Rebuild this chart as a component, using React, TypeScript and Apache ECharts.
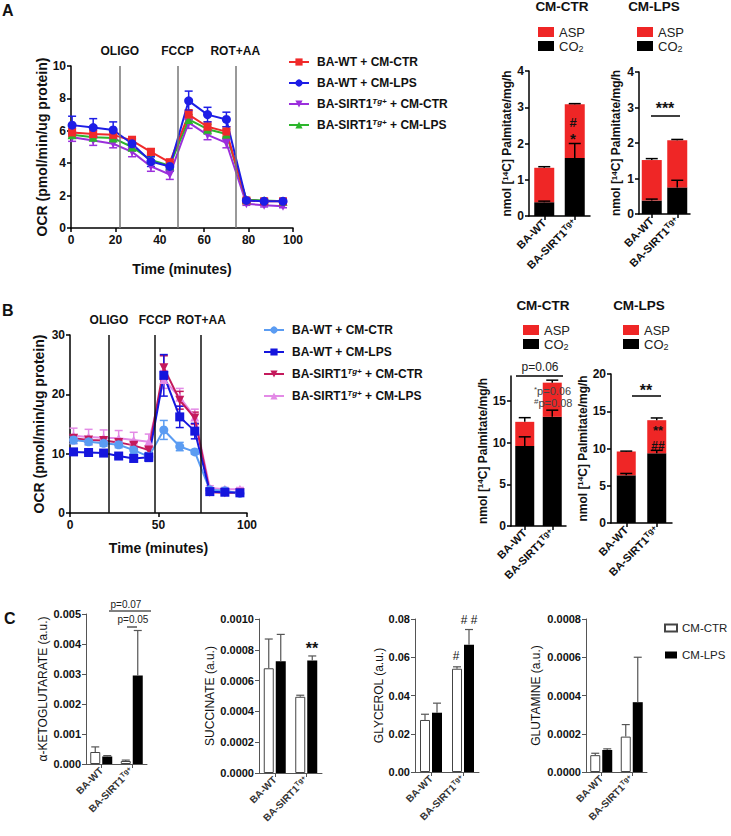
import React, { useEffect, useRef } from 'react';
import * as echarts from 'echarts';

const FONT = "'Liberation Sans', Arial, Helvetica, sans-serif";

// ---------- Panel A / B time course ----------
const injectionTimes = [22, 48, 74];
const injectionNames = ['OLIGO', 'FCCP', 'ROT+AA'];

const timesA = [0.5, 10, 19, 27.5, 36, 44.5, 53, 61.5, 70, 79, 87, 95.5];
const aWtCtr = [5.9, 5.8, 5.75, 5.4, 4.7, 4.05, 7.0, 6.25, 5.95, 1.7, 1.65, 1.65];
const aWtCtrErr = [0.25, 0.25, 0.2, 0.25, 0.2, 0.2, 0.3, 0.3, 0.3, 0.1, 0.1, 0.1];
const aWtLps = [6.35, 6.2, 6.05, 5.2, 4.1, 3.8, 7.85, 7.0, 6.7, 1.7, 1.65, 1.65];
const aWtLpsErr = [0.55, 0.55, 0.5, 0.3, 0.3, 0.3, 0.6, 0.45, 0.45, 0.1, 0.1, 0.1];
const aTgCtr = [5.6, 5.4, 5.2, 4.7, 3.8, 3.3, 6.5, 5.75, 5.25, 1.5, 1.4, 1.35];
const aTgCtrErr = [0.25, 0.3, 0.25, 0.3, 0.3, 0.3, 0.35, 0.3, 0.3, 0.1, 0.1, 0.1];
const aTgLps = [5.75, 5.6, 5.55, 5.0, 4.2, 3.85, 6.7, 6.1, 5.8, 1.75, 1.7, 1.65];
const aTgLpsErr = [0.2, 0.2, 0.2, 0.25, 0.2, 0.2, 0.3, 0.3, 0.3, 0.1, 0.1, 0.1];

const timesB = [2, 10.5, 19, 27.5, 36, 44.5, 53, 62, 70.5, 79, 87.5, 96];
const bWtCtr = [12.3, 12.0, 11.75, 11.5, 10.6, 9.5, 14.0, 11.2, 10.3, 3.9, 3.75, 3.3];
const bWtCtrErr = [0.6, 0.5, 0.5, 0.5, 0.6, 0.7, 1.6, 0.7, 0.4, 0.3, 0.3, 0.3];
const bWtLps = [10.3, 10.2, 10.1, 9.6, 9.2, 9.4, 23.2, 16.2, 13.8, 3.6, 3.5, 3.4];
const bWtLpsErr = [0.4, 0.3, 0.3, 0.4, 0.6, 0.7, 3.5, 1.8, 1.3, 0.3, 0.3, 0.3];
const bTgCtr = [12.6, 12.3, 12.2, 11.9, 11.4, 10.6, 24.5, 19.0, 16.0, 3.5, 3.4, 3.4];
const bTgCtrErr = [0.5, 0.4, 0.4, 0.4, 0.5, 0.5, 2.0, 1.5, 1.0, 0.3, 0.3, 0.3];
const bTgLps = [13.0, 12.8, 12.7, 12.6, 12.3, 12.0, 22.5, 19.5, 16.2, 4.2, 4.0, 4.0];
const bTgLpsErr = [1.3, 1.3, 1.3, 1.3, 1.3, 1.3, 1.5, 1.5, 1.3, 0.4, 0.3, 0.3];

const lineNames = ['BA-WT + CM-CTR', 'BA-WT + CM-LPS', 'BA-SIRT1 + CM-CTR', 'BA-SIRT1 + CM-LPS'];
const lineNamesB = lineNames.map((n) => n + ' (B)');

// ---------- Palmitate oxidation bars ----------
const barCats = ['BA-WT', 'BA-SIRT1'];
const aCtrCO2 = [0.38, 1.6];
const aCtrCO2Err = [0.03, 0.4];
const aCtrASP = [0.95, 1.48];
const aCtrTotErr = [0.03, 0.02];
const aLpsCO2 = [0.38, 0.75];
const aLpsCO2Err = [0.04, 0.2];
const aLpsASP = [1.14, 1.33];
const aLpsTotErr = [0.04, 0.02];
const bCtrCO2 = [9.6, 13.1];
const bCtrCO2Err = [1.1, 0.8];
const bCtrASP = [2.9, 4.1];
const bCtrTotErr = [0.5, 0.3];
const bLpsCO2 = [6.4, 9.35];
const bLpsCO2Err = [0.25, 0.4];
const bLpsASP = [3.2, 4.45];
const bLpsTotErr = [0.05, 0.3];

// ---------- Panel C metabolites ----------
const akgCtr = [0.0004, 0.0001];
const akgCtrErr = [0.00017, 0.00003];
const akgLps = [0.00025, 0.00295];
const akgLpsErr = [0.00003, 0.0015];
const succCtr = [0.00068, 0.000495];
const succCtrErr = [0.00019, 0.00001];
const succLps = [0.000725, 0.00073];
const succLpsErr = [0.000175, 0.00003];
const glyCtr = [0.0272, 0.054];
const glyCtrErr = [0.003, 0.001];
const glyLps = [0.031, 0.0665];
const glyLpsErr = [0.005, 0.008];
const glnCtr = [0.000088, 0.000185];
const glnCtrErr = [0.00001, 0.000063];
const glnLps = [0.000115, 0.000365];
const glnLpsErr = [0.000006, 0.000235];

const RED = '#ef2626';
const DOWN_TRI = 'path://M0,0L10,0L5,9Z';

function supRich(size: number, italic = false) {
  return {
    sup: { fontSize: size, fontWeight: 'bold', fontStyle: italic ? 'italic' : 'normal', verticalAlign: 'top', lineHeight: 6, fontFamily: FONT },
  };
}

function lineSeries(name: string, times: number[], vals: number[], color: string, symbol: string, size: number, gi: number, extra: any = {}) {
  return {
    type: 'line',
    name,
    xAxisIndex: gi,
    yAxisIndex: gi,
    data: times.map((t, i) => [t, vals[i]]),
    symbol,
    symbolSize: size,
    itemStyle: { color },
    lineStyle: { color, width: 2 },
    z: 4,
    ...extra,
  };
}

function errLine(times: number[], vals: number[], errs: number[], color: string, gi: number) {
  return {
    type: 'custom',
    xAxisIndex: gi,
    yAxisIndex: gi,
    silent: true,
    z: 3,
    data: times.map((t, i) => [t, vals[i], errs[i]]),
    encode: { x: 0, y: 1 },
    renderItem: (_p: any, api: any) => {
      const x = api.value(0);
      const y = api.value(1);
      const e = api.value(2);
      const a = api.coord([x, y + e]);
      const b = api.coord([x, y - e]);
      const st = { stroke: color, lineWidth: 1.5 };
      const cap = 4;
      return {
        type: 'group',
        children: [
          { type: 'line', shape: { x1: a[0], y1: a[1], x2: b[0], y2: b[1] }, style: st },
          { type: 'line', shape: { x1: a[0] - cap, y1: a[1], x2: a[0] + cap, y2: a[1] }, style: st },
          { type: 'line', shape: { x1: b[0] - cap, y1: b[1], x2: b[0] + cap, y2: b[1] }, style: st },
        ],
      };
    },
  };
}

function errBar(base: number[], errs: number[], gi: number, color: string, offset: number, cap: number, width = 1.5) {
  return {
    type: 'custom',
    xAxisIndex: gi,
    yAxisIndex: gi,
    silent: true,
    z: 5,
    data: base.map((v, i) => [i, v, errs[i]]),
    encode: { x: 0, y: 1 },
    renderItem: (_p: any, api: any) => {
      const i = api.value(0);
      const y = api.value(1);
      const e = api.value(2);
      const a = api.coord([i, y]);
      const b = api.coord([i, y + e]);
      const x = a[0] + offset;
      const st = { stroke: color, lineWidth: width };
      return {
        type: 'group',
        children: [
          { type: 'line', shape: { x1: x, y1: a[1], x2: x, y2: b[1] }, style: st },
          { type: 'line', shape: { x1: x - cap, y1: b[1], x2: x + cap, y2: b[1] }, style: st },
        ],
      };
    },
  };
}

function markLines(color: string) {
  return {
    silent: true,
    symbol: ['none', 'none'],
    animation: false,
    lineStyle: { color, width: 1.5, type: 'solid' },
    label: {
      show: true,
      position: 'end',
      formatter: (p: any) => p.name,
      fontFamily: FONT,
      fontWeight: 'bold',
      fontSize: 12,
      color: '#111',
      distance: 9,
    },
    data: injectionTimes.map((t, i) => ({ xAxis: t, name: injectionNames[i] })),
  };
}

const catLabelFormatter = (v: string) => (v === 'BA-SIRT1' ? 'BA-SIRT1{sup|Tg+}' : v);

function valueY(gi: number, max: number, interval: number, name: string, nameGap: number, opts: any = {}) {
  const c = opts.color || '#000';
  return {
    type: 'value',
    gridIndex: gi,
    min: 0,
    max,
    interval,
    splitLine: { show: false },
    axisLine: { show: true, lineStyle: { color: c, width: opts.lw || 1.5 } },
    axisTick: { show: true, length: 4, lineStyle: { color: c, width: opts.lw || 1.5 } },
    axisLabel: {
      fontFamily: FONT,
      fontWeight: 'bold',
      fontSize: opts.labelSize || 12,
      color: '#111',
      margin: 5,
      showMaxLabel: opts.showMax !== false,
      formatter: opts.decimals != null ? (v: number) => v.toFixed(opts.decimals) : undefined,
    },
    name,
    nameLocation: 'middle',
    nameRotate: 90,
    nameGap,
    nameTextStyle: {
      fontFamily: FONT,
      fontWeight: opts.nameWeight || 'bold',
      fontSize: opts.nameSize || 12,
      color: '#111',
      rich: { sup: { fontSize: 8, fontWeight: opts.nameWeight || 'bold', verticalAlign: 'top', lineHeight: 6, fontFamily: FONT } },
    },
  };
}

function catX(gi: number, opts: any = {}) {
  const c = opts.color || '#000';
  return {
    type: 'category',
    gridIndex: gi,
    data: barCats,
    axisLine: { show: true, lineStyle: { color: c, width: opts.lw || 1.5 } },
    axisTick: { show: true, alignWithLabel: true, length: 4, lineStyle: { color: c, width: opts.lw || 1.5 } },
    axisLabel: {
      interval: 0,
      rotate: 45,
      fontFamily: FONT,
      fontWeight: 'bold',
      fontSize: opts.labelSize || 11,
      color: opts.labelColor || '#111',
      margin: 5,
      lineHeight: 12,
      formatter: catLabelFormatter,
      rich: supRich((opts.labelSize || 11) - 3),
    },
  };
}

function timeX(gi: number, interval: number, nameGap: number) {
  return {
    type: 'value',
    gridIndex: gi,
    min: 0,
    max: 100,
    interval,
    splitLine: { show: false },
    axisLine: { show: true, lineStyle: { color: '#000', width: 1.5 } },
    axisTick: { show: true, length: 4, lineStyle: { color: '#000', width: 1.5 } },
    axisLabel: { fontFamily: FONT, fontWeight: 'bold', fontSize: 12, color: '#111', margin: 6 },
    name: 'Time (minutes)',
    nameLocation: 'middle',
    nameGap,
    nameTextStyle: { fontFamily: FONT, fontWeight: 'bold', fontSize: 14, color: '#111' },
  };
}

function stackBars(gi: number, co2: number[], asp: number[], co2Err: number[], totErr: number[], width: number) {
  const stack = 'stk' + gi;
  const tot = co2.map((v, i) => v + asp[i]);
  return [
    { type: 'bar', name: 'CO2', stack, xAxisIndex: gi, yAxisIndex: gi, data: co2, barWidth: width, itemStyle: { color: '#000' }, z: 2 },
    { type: 'bar', name: 'ASP', stack, xAxisIndex: gi, yAxisIndex: gi, data: asp, barWidth: width, itemStyle: { color: RED }, z: 2 },
    errBar(co2, co2Err, gi, '#000', 0, 6),
    errBar(tot, totErr, gi, '#000', 0, 6),
  ];
}

function groupBars(gi: number, ctr: number[], ctrErr: number[], lps: number[], lpsErr: number[]) {
  return [
    { type: 'bar', name: 'CM-CTR', xAxisIndex: gi, yAxisIndex: gi, data: ctr, barWidth: 10, barGap: '20%', itemStyle: { color: '#fff', borderColor: '#444', borderWidth: 1 }, z: 2 },
    { type: 'bar', name: 'CM-LPS', xAxisIndex: gi, yAxisIndex: gi, data: lps, barWidth: 10, barGap: '20%', itemStyle: { color: '#000' }, z: 2 },
    errBar(ctr, ctrErr, gi, '#555', -6, 4, 1.2),
    errBar(lps, lpsErr, gi, '#555', 6, 4, 1.2),
  ];
}

function lineLegend(names: string[], left: number, top: number, gap: number) {
  return {
    data: names,
    left,
    top,
    orient: 'vertical',
    padding: 0,
    itemWidth: 20,
    itemHeight: 9,
    itemGap: gap,
    selectedMode: false,
    formatter: (n: string) => n.replace(' (B)', '').replace('SIRT1', 'SIRT1{sup|Tg+}'),
    textStyle: {
      fontFamily: FONT,
      fontWeight: 'bold',
      fontSize: 12,
      color: '#111',
      lineHeight: 14,
      padding: [0, 0, 0, 3],
      rich: supRich(8, true),
    },
  };
}

function barLegend(left: number, top: number) {
  return {
    data: ['ASP', 'CO2'],
    left,
    top,
    orient: 'vertical',
    padding: 0,
    icon: 'rect',
    itemWidth: 16,
    itemHeight: 10,
    itemGap: 0,
    selectedMode: false,
    formatter: (n: string) => (n === 'CO2' ? 'CO{sub|2}' : n),
    textStyle: {
      fontFamily: FONT,
      fontSize: 13,
      color: '#222',
      lineHeight: 14,
      rich: { sub: { fontSize: 9, verticalAlign: 'bottom', lineHeight: 6, fontFamily: FONT, color: '#222' } },
    },
  };
}

function txt(x: number, y: number, text: string, size: number, weight = 'bold', align = 'center', color = '#111', rich?: any) {
  return {
    type: 'text',
    x,
    y,
    z: 100,
    silent: true,
    style: { text, fontFamily: FONT, fontSize: size, fontWeight: weight, fill: color, align, verticalAlign: 'middle', rich },
  };
}
function hline(x1: number, x2: number, y: number, w = 1.5, color = '#000') {
  return { type: 'line', z: 100, silent: true, shape: { x1, y1: y, x2, y2: y }, style: { stroke: color, lineWidth: w } };
}

function buildOption() {
  const grids = [
    { left: 71, top: 66, width: 222, height: 162 }, // 0 A line
    { left: 529, top: 71, width: 61, height: 145 }, // 1 A CTR
    { left: 639, top: 72, width: 51, height: 142 }, // 2 A LPS
    { left: 70, top: 335, width: 177, height: 178 }, // 3 B line
    { left: 511, top: 376, width: 55, height: 150 }, // 4 B CTR
    { left: 611, top: 374, width: 61, height: 149 }, // 5 B LPS
    { left: 86, top: 614, width: 61, height: 150 }, // 6 C akg
    { left: 259, top: 619, width: 63, height: 154 }, // 7 C succ
    { left: 415, top: 619, width: 64, height: 153 }, // 8 C gly
    { left: 586, top: 619, width: 61, height: 153 }, // 9 C gln
  ].map((g) => ({ ...g, containLabel: false }));

  const cOpts = { color: '#555', lw: 1, labelSize: 10, labelColor: '#333' };
  const xAxis = [
    timeX(0, 20, 34),
    catX(1),
    catX(2),
    timeX(3, 50, 28),
    catX(4),
    catX(5),
    catX(6, cOpts),
    catX(7, cOpts),
    catX(8, cOpts),
    catX(9, cOpts),
  ];
  const cy = { color: '#555', lw: 1, labelSize: 11, nameWeight: 'normal', nameSize: 12 };
  const palm = 'nmol [{sup|14}C] Palmitate/mg/h';
  const yAxis = [
    valueY(0, 10, 2, 'OCR (pmol/min/ug protein)', 18, { nameSize: 14 }),
    valueY(1, 4, 1, palm, 11),
    valueY(2, 4, 1, palm, 17),
    valueY(3, 30, 10, 'OCR (pmol/min/ug protein)', 24, { nameSize: 14 }),
    valueY(4, 18, 5, palm, 18, { showMax: false }),
    valueY(5, 20, 5, palm, 14),
    valueY(6, 0.005, 0.001, 'α-KETOGLUTARATE (a.u.)', 37, { ...cy, decimals: 3 }),
    valueY(7, 0.001, 0.0002, 'SUCCINATE (a.u.)', 42, { ...cy, decimals: 4 }),
    valueY(8, 0.08, 0.02, 'GLYCEROL (a.u.)', 30, { ...cy, decimals: 2 }),
    valueY(9, 0.0008, 0.0002, 'GLUTAMINE (a.u.)', 44, { ...cy, decimals: 4 }),
  ];

  const series: any[] = [
    // A
    lineSeries(lineNames[2], timesA, aTgCtr, '#9b2fdc', DOWN_TRI, 9, 0, { markLine: markLines('#777') }),
    errLine(timesA, aTgCtr, aTgCtrErr, '#9b2fdc', 0),
    lineSeries(lineNames[3], timesA, aTgLps, '#2cb52c', 'triangle', 9, 0),
    errLine(timesA, aTgLps, aTgLpsErr, '#2cb52c', 0),
    lineSeries(lineNames[0], timesA, aWtCtr, '#f02a2a', 'rect', 8, 0),
    errLine(timesA, aWtCtr, aWtCtrErr, '#f02a2a', 0),
    lineSeries(lineNames[1], timesA, aWtLps, '#1d1de6', 'circle', 9, 0),
    errLine(timesA, aWtLps, aWtLpsErr, '#1d1de6', 0),
    // B
    lineSeries(lineNamesB[3], timesB, bTgLps, '#e38ae6', 'triangle', 9, 3, { markLine: markLines('#111') }),
    errLine(timesB, bTgLps, bTgLpsErr, '#e38ae6', 3),
    lineSeries(lineNamesB[2], timesB, bTgCtr, '#c41a5c', DOWN_TRI, 9, 3),
    errLine(timesB, bTgCtr, bTgCtrErr, '#c41a5c', 3),
    lineSeries(lineNamesB[0], timesB, bWtCtr, '#5b9cf2', 'circle', 9, 3),
    errLine(timesB, bWtCtr, bWtCtrErr, '#5b9cf2', 3),
    lineSeries(lineNamesB[1], timesB, bWtLps, '#1515dd', 'rect', 9, 3),
    errLine(timesB, bWtLps, bWtLpsErr, '#1515dd', 3),
    // bars
    ...stackBars(1, aCtrCO2, aCtrASP, aCtrCO2Err, aCtrTotErr, 20),
    ...stackBars(2, aLpsCO2, aLpsASP, aLpsCO2Err, aLpsTotErr, 20),
    ...stackBars(4, bCtrCO2, bCtrASP, bCtrCO2Err, bCtrTotErr, 19),
    ...stackBars(5, bLpsCO2, bLpsASP, bLpsCO2Err, bLpsTotErr, 19),
    // C
    ...groupBars(6, akgCtr, akgCtrErr, akgLps, akgLpsErr),
    ...groupBars(7, succCtr, succCtrErr, succLps, succLpsErr),
    ...groupBars(8, glyCtr, glyCtrErr, glyLps, glyLpsErr),
    ...groupBars(9, glnCtr, glnCtrErr, glnLps, glnLpsErr),
  ];

  const legend = [
    lineLegend(lineNames, 288, 55, 7),
    lineLegend(lineNamesB, 263, 323, 8),
    barLegend(538, 25),
    barLegend(637, 25),
    barLegend(523, 323),
    barLegend(623, 323),
    {
      data: ['CM-CTR', 'CM-LPS'],
      left: 664,
      top: 621,
      orient: 'vertical',
      padding: 0,
      icon: 'rect',
      itemWidth: 12,
      itemHeight: 7,
      itemGap: 13,
      selectedMode: false,
      textStyle: { fontFamily: FONT, fontSize: 11.5, color: '#222', lineHeight: 14 },
    },
  ];

  const smallRich = { s: { fontSize: 8, verticalAlign: 'top', lineHeight: 6, fontFamily: FONT, fill: '#444' } };
  const graphic = [
    txt(2, 10, 'A', 16, 'bold', 'left'),
    txt(2, 310, 'B', 16, 'bold', 'left'),
    txt(4, 618, 'C', 16, 'bold', 'left'),
    txt(562, 6, 'CM-CTR', 13.5),
    txt(654, 6, 'CM-LPS', 13.5),
    txt(543, 305, 'CM-CTR', 13.5),
    txt(639, 305, 'CM-LPS', 13.5),
    // A annotations
    txt(573, 122, '#', 13),
    txt(573, 138, '*', 15),
    txt(665, 108, '***', 16),
    hline(651, 680, 116),
    // B annotations
    txt(540, 367, 'p=0.06', 12, 'normal', 'center', '#222'),
    hline(516, 563, 376),
    { type: 'text', x: 534, y: 391, z: 100, silent: true, style: { text: '{s|*}p=0.06', fontFamily: FONT, fontSize: 11, fill: '#444', align: 'left', verticalAlign: 'middle', rich: smallRich } },
    { type: 'text', x: 534, y: 403, z: 100, silent: true, style: { text: '{s|#}p=0.08', fontFamily: FONT, fontSize: 11, fill: '#444', align: 'left', verticalAlign: 'middle', rich: smallRich } },
    txt(646, 390, '**', 16),
    hline(632, 661, 396),
    txt(658, 430, '**', 13),
    txt(658, 446, '##', 12),
    // C annotations
    txt(126, 604, 'p=0.07', 10, 'normal', 'center', '#222'),
    hline(109, 151, 611, 1),
    txt(133, 619, 'p=0.05', 10, 'normal', 'center', '#222'),
    hline(127, 137, 627, 1),
    txt(312, 648, '**', 16),
    txt(456, 656, '#', 12, 'normal'),
    txt(469, 620, '# #', 12, 'normal'),
  ];

  return {
    animation: false,
    backgroundColor: '#fff',
    textStyle: { fontFamily: FONT },
    grid: grids,
    xAxis,
    yAxis,
    series,
    legend,
    graphic,
  };
}

export default function App() {
  const ref = useRef<HTMLDivElement>(null);
  useEffect(() => {
    document.body.style.margin = '0';
    const chart = echarts.init(ref.current as HTMLDivElement, null, { renderer: 'svg' });
    chart.setOption(buildOption() as any);
    return () => chart.dispose();
  }, []);
  return <div ref={ref} style={{ width: 731, height: 836 }} />;
}
